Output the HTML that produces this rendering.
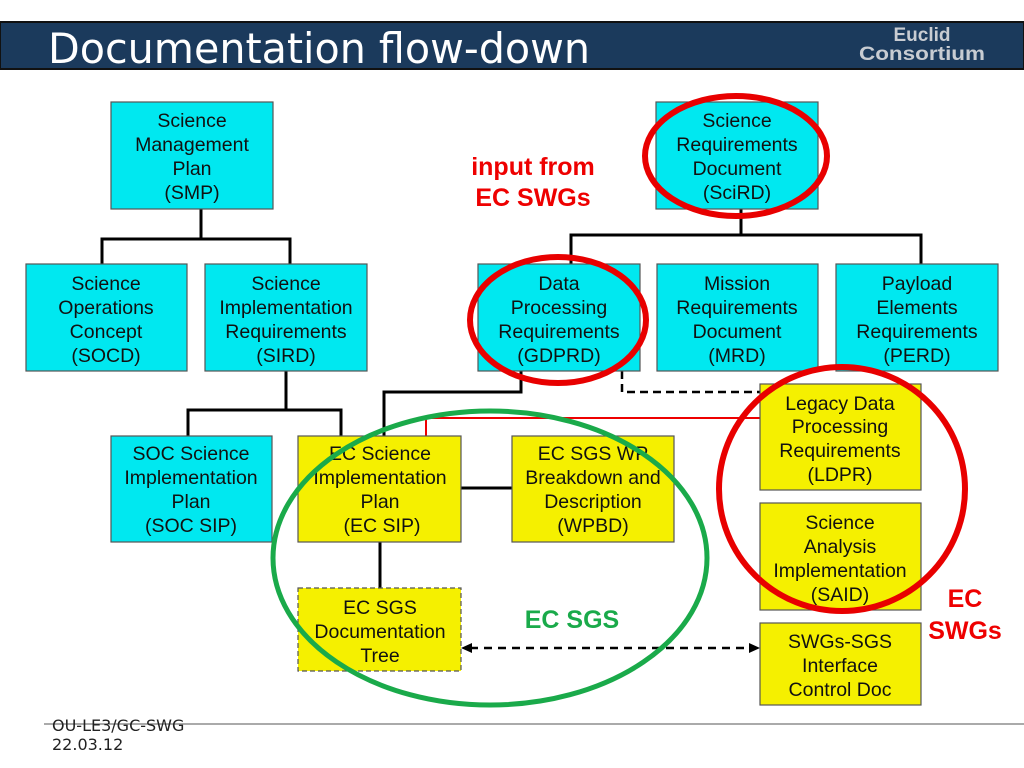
<!DOCTYPE html>
<html><head><meta charset="utf-8"><style>
html,body{margin:0;padding:0;background:#fff;}
svg{display:block;}
</style></head><body>
<svg width="1024" height="768" viewBox="0 0 1024 768" xmlns="http://www.w3.org/2000/svg" font-family="Liberation Sans, Arial, sans-serif">
<rect x="0" y="0" width="1024" height="768" fill="#fff"/>
<!-- header -->
<rect x="0" y="22" width="1024" height="47" fill="#1b3a5c" stroke="#111" stroke-width="2"/>
<text x="48" y="63" font-size="42" fill="#fff" font-family="DejaVu Sans Condensed, DejaVu Sans, sans-serif" textLength="542" lengthAdjust="spacingAndGlyphs">Documentation flow-down</text>
<text x="922" y="41" font-size="19" font-weight="bold" fill="#c8ccd2" text-anchor="middle" font-family="Liberation Sans Narrow, Liberation Sans, sans-serif">Euclid</text>
<text x="922" y="60" font-size="19" font-weight="bold" fill="#c8ccd2" text-anchor="middle" font-family="Liberation Sans Narrow, Liberation Sans, sans-serif" textLength="126" lengthAdjust="spacingAndGlyphs">Consortium</text>

<!-- connectors -->
<g stroke="#000" stroke-width="3" fill="none">
<polyline points="201,209 201,239"/>
<polyline points="102,264 102,239 290,239 290,264"/>
<polyline points="741,209 741,235"/>
<polyline points="571,264 571,235 921,235 921,264"/>
<polyline points="286,371 286,410"/>
<polyline points="188,436 188,410 341,410 341,436"/>
<polyline points="521,371 521,392 384,392 384,436"/>
<polyline points="461,488 512,488"/>
<polyline points="380,542 380,588"/>
</g>
<polyline points="426,436 426,418 760,418" stroke="#e00" stroke-width="2" fill="none"/>
<polyline points="622,371 622,392 760,392" stroke="#000" stroke-width="2.5" stroke-dasharray="8,5" fill="none"/>
<line x1="470" y1="648" x2="751" y2="648" stroke="#000" stroke-width="2.5" stroke-dasharray="8,6"/>
<polygon points="461,648 472,643 472,653" fill="#000"/>
<polygon points="760,648 749,643 749,653" fill="#000"/>

<!-- boxes -->
<g stroke="#555" stroke-width="1.2">
<rect x="111" y="102" width="162" height="107" fill="#00e8f0"/>
<rect x="656" y="102" width="162" height="107" fill="#00e8f0"/>
<rect x="26" y="264" width="161" height="107" fill="#00e8f0"/>
<rect x="205" y="264" width="162" height="107" fill="#00e8f0"/>
<rect x="478" y="264" width="162" height="107" fill="#00e8f0"/>
<rect x="657" y="264" width="161" height="107" fill="#00e8f0"/>
<rect x="836" y="264" width="162" height="107" fill="#00e8f0"/>
<rect x="111" y="436" width="161" height="106" fill="#00e8f0"/>
<rect x="298" y="436" width="163" height="106" fill="#f5f000"/>
<rect x="512" y="436" width="162" height="106" fill="#f5f000"/>
<rect x="760" y="384" width="161" height="106" fill="#f5f000"/>
<rect x="760" y="503" width="161" height="107" fill="#f5f000"/>
<rect x="760" y="623" width="161" height="82" fill="#f5f000"/>
<rect x="298" y="588" width="163" height="83" fill="#f5f000" stroke-dasharray="5,3"/>
</g>

<g font-size="19.5" fill="#111" text-anchor="middle" font-family="Liberation Sans, Arial, sans-serif">
<text x="192" y="127">Science</text><text x="192" y="151">Management</text><text x="192" y="175">Plan</text><text x="192" y="199">(SMP)</text>
<text x="737" y="127">Science</text><text x="737" y="151">Requirements</text><text x="737" y="175">Document</text><text x="737" y="199">(SciRD)</text>
<text x="106" y="290">Science</text><text x="106" y="314">Operations</text><text x="106" y="338">Concept</text><text x="106" y="362">(SOCD)</text>
<text x="286" y="290">Science</text><text x="286" y="314">Implementation</text><text x="286" y="338">Requirements</text><text x="286" y="362">(SIRD)</text>
<text x="559" y="290">Data</text><text x="559" y="314">Processing</text><text x="559" y="338">Requirements</text><text x="559" y="362">(GDPRD)</text>
<text x="737" y="290">Mission</text><text x="737" y="314">Requirements</text><text x="737" y="338">Document</text><text x="737" y="362">(MRD)</text>
<text x="917" y="290">Payload</text><text x="917" y="314">Elements</text><text x="917" y="338">Requirements</text><text x="917" y="362">(PERD)</text>
<text x="191" y="460">SOC Science</text><text x="191" y="484">Implementation</text><text x="191" y="508">Plan</text><text x="191" y="532">(SOC SIP)</text>
<text x="380" y="460">EC Science</text><text x="380" y="484">Implementation</text><text x="380" y="508">Plan</text><text x="382" y="532">(EC SIP)</text>
<text x="593" y="460">EC SGS WP</text><text x="593" y="484">Breakdown and</text><text x="593" y="508">Description</text><text x="593" y="532">(WPBD)</text>
<text x="840" y="410">Legacy Data</text><text x="840" y="433">Processing</text><text x="840" y="457">Requirements</text><text x="840" y="481">(LDPR)</text>
<text x="840" y="529">Science</text><text x="840" y="553">Analysis</text><text x="840" y="577">Implementation</text><text x="840" y="601">(SAID)</text>
<text x="840" y="648">SWGs-SGS</text><text x="840" y="672">Interface</text><text x="840" y="696">Control Doc</text>
<text x="380" y="614">EC SGS</text><text x="380" y="638">Documentation</text><text x="380" y="662">Tree</text>
</g>

<!-- ellipses -->
<g fill="none">
<ellipse cx="490" cy="558" rx="217" ry="147" stroke="#1aaa4a" stroke-width="5"/>
<ellipse cx="842" cy="489" rx="123" ry="122" stroke="#e80000" stroke-width="6"/>
<ellipse cx="736" cy="156" rx="91" ry="60" stroke="#e80000" stroke-width="6"/>
<ellipse cx="558" cy="320" rx="88" ry="63" stroke="#e80000" stroke-width="6"/>
</g>

<g font-size="25" font-weight="bold" text-anchor="middle" font-family="Liberation Sans, Arial, sans-serif">
<text x="533" y="175" fill="#e00">input from</text>
<text x="533" y="206" fill="#e00">EC SWGs</text>
<text x="572" y="628" fill="#1aaa4a">EC SGS</text>
<text x="965" y="607" fill="#e00">EC</text>
<text x="965" y="639" fill="#e00">SWGs</text>
</g>

<!-- footer -->
<line x1="44" y1="724" x2="1024" y2="724" stroke="#555" stroke-width="1"/>
<text x="52" y="731" font-size="16" fill="#222" font-family="DejaVu Sans, sans-serif">OU-LE3/GC-SWG</text>
<text x="52" y="750" font-size="16" fill="#222" font-family="DejaVu Sans, sans-serif">22.03.12</text>
</svg>
</body></html>
